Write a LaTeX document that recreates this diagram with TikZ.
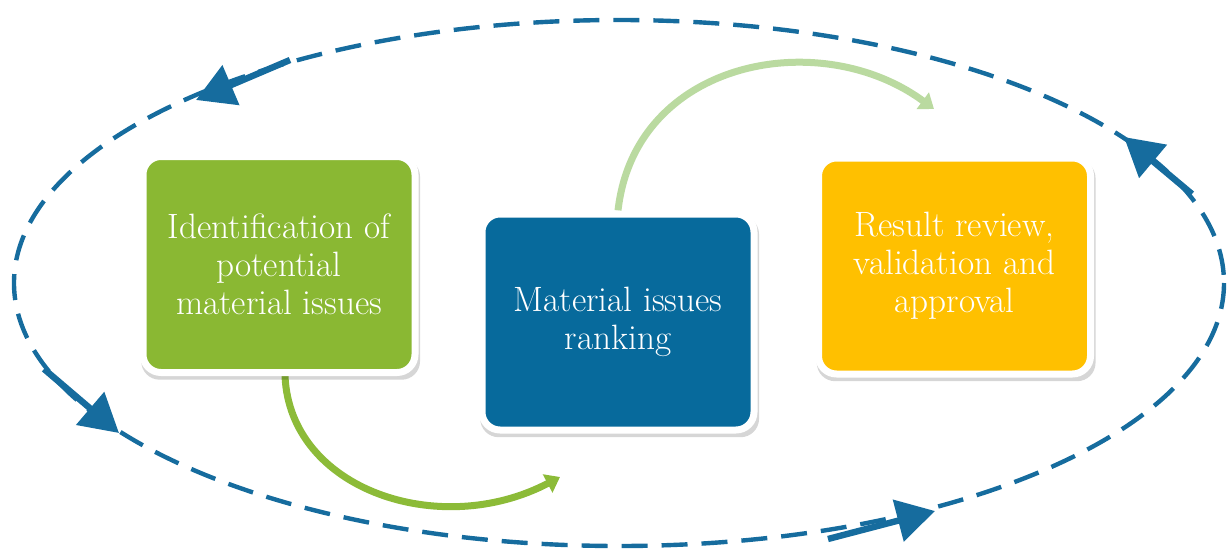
\documentclass[tikz,border=0pt]{standalone}
\usetikzlibrary{arrows.meta,shadows,backgrounds}
\definecolor{loopblue}{RGB}{22,108,158}
\definecolor{boxgreen}{RGB}{138,184,51}
\definecolor{boxblue}{RGB}{7,106,156}
\definecolor{boxyellow}{RGB}{255,192,0}
\definecolor{arrowgreen}{RGB}{140,187,56}
\definecolor{arrowlight}{RGB}{186,218,160}
\begin{document}
\begin{tikzpicture}[x=0.5pt,y=-0.5pt,
  stagebox/.style={rounded corners=9pt, draw=white, line width=3.5pt,
    minimum width=136pt, minimum height=108pt, text=white, align=center,
    font=\fontsize{17.6}{19}\selectfont,
    drop shadow={shadow xshift=0.8pt, shadow yshift=-2.2pt, shadow scale=1.025, opacity=0.16, fill=black}},
  loopline/.style={draw=loopblue, line width=2.2pt, dash pattern=on 13pt off 7pt},
  loopdart/.style={draw=loopblue, line width=3.2pt, -{Triangle[length=19pt,width=21pt]}},
  flowarrow/.style={line width=3.5pt, -{Triangle[length=7pt,width=10pt]}}
]
\useasboundingbox (0,0) rectangle (1227,552);
% dashed loop
\draw[loopline] (619,283) ellipse [x radius=605, y radius=263];
\coordinate (la0) at (290,60);   \coordinate (la1) at (196,100);
\coordinate (lb0) at (1192,194); \coordinate (lb1) at (1124,137);
\coordinate (lc0) at (44,369);   \coordinate (lc1) at (119,433);
\coordinate (ld0) at (828,539);  \coordinate (ld1) at (935,511);
\draw[loopdart] (la0) -- (la1);
\draw[loopdart] (lb0) -- (lb1);
\draw[loopdart] (lc0) -- (lc1);
\draw[loopdart] (ld0) -- (ld1);
% stage boxes
\node[stagebox, fill=boxgreen] (g) at (279,264.5) {Identification of\\potential\\material issues};
\node[stagebox, fill=boxblue] (b) at (618,322) {Material issues\\ranking};
\node[stagebox, fill=boxyellow] (y) at (954.5,266) {Result review,\\validation and\\approval};
% flow arrows
\coordinate (gtip) at (560,477);
\coordinate (ltip) at (934,109);
\begin{scope}[on background layer]
\draw[flowarrow, draw=arrowgreen] ([xshift=3]g.south) .. controls (290,490) and (440,540) .. (gtip);
\draw[flowarrow, draw=arrowlight] (b.north) .. controls (635,60) and (820,25) .. (ltip);
\end{scope}
\end{tikzpicture}
\end{document}
